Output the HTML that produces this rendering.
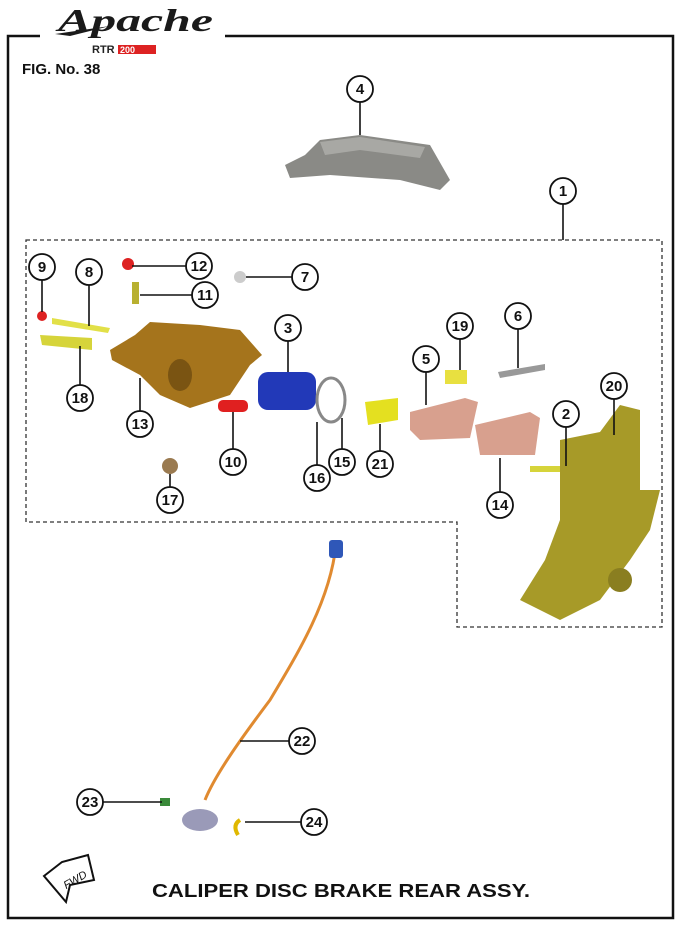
<!DOCTYPE html>
<html><head><meta charset="utf-8"><style>
body{margin:0;background:#fff}
svg{display:block}
.c circle{fill:#fff;stroke:#111;stroke-width:1.8}
.c text{font-family:"Liberation Sans",sans-serif;font-size:15px;font-weight:bold;text-anchor:middle;fill:#111}
.l{stroke:#111;stroke-width:1.6;fill:none}
</style></head><body>
<svg width="682" height="929" viewBox="0 0 682 929" xmlns="http://www.w3.org/2000/svg">
<rect x="8" y="36" width="665" height="882" fill="none" stroke="#111" stroke-width="2.5"/>
<rect x="40" y="10" width="185" height="50" fill="#fff"/>
<text x="58" y="31" font-family="Liberation Serif,serif" font-style="italic" font-weight="bold" font-size="32" fill="#1a1a1a" textLength="155" lengthAdjust="spacingAndGlyphs">Apache</text>
<path d="M55 34 L110 26 L70 36Z" fill="#1a1a1a"/>
<text x="92" y="53" font-family="Liberation Sans,sans-serif" font-weight="bold" font-size="11" fill="#222">RTR</text>
<rect x="118" y="45" width="38" height="9" fill="#d22"/>
<text x="120" y="53" font-family="Liberation Sans,sans-serif" font-weight="bold" font-size="9" fill="#fff">200</text>
<text x="22" y="74" font-family="Liberation Sans,sans-serif" font-weight="bold" font-size="15" fill="#111">FIG. No. 38</text>
<path d="M26 240H662V627H457V522H26Z" fill="none" stroke="#333" stroke-width="1.3" stroke-dasharray="4,3"/>
<!-- parts -->
<path d="M285 165 L305 155 L320 140 L360 135 L430 145 L450 180 L440 190 L400 180 L330 175 L290 178Z" fill="#8a8a86"/>
<path d="M320 142 L360 137 L425 147 L420 158 L360 150 L325 155Z" fill="#a8a8a4"/>
<path d="M110 350 L135 335 L150 322 L200 325 L240 330 L262 355 L250 365 L230 395 L190 408 L160 395 L140 375 L112 360Z" fill="#a5741c"/>
<ellipse cx="180" cy="375" rx="12" ry="16" fill="#7a5412"/>
<path d="M40 335 L92 338 L92 350 L42 345Z" fill="#d6d43a"/>
<path d="M52 318 L110 328 L108 333 L52 324Z" fill="#e2e048"/>
<circle cx="42" cy="316" r="5" fill="#d22"/>
<circle cx="128" cy="264" r="6" fill="#d22"/>
<rect x="132" y="282" width="7" height="22" fill="#b8b030"/>
<circle cx="240" cy="277" r="6" fill="#ccc"/>
<rect x="218" y="400" width="30" height="12" rx="5" fill="#e02020"/>
<rect x="258" y="372" width="58" height="38" rx="10" fill="#2239b8"/>
<ellipse cx="331" cy="400" rx="14" ry="22" fill="none" stroke="#888" stroke-width="3"/>
<path d="M365 402 L398 398 L398 420 L368 425Z" fill="#e4e020"/>
<path d="M410 412 L465 398 L478 402 L470 438 L420 440 L410 430Z" fill="#d8a08e"/>
<path d="M475 425 L530 412 L540 418 L535 455 L480 455Z" fill="#d8a08e"/>
<rect x="445" y="370" width="22" height="14" fill="#e8e040"/>
<path d="M498 372 L545 364 L545 370 L500 378Z" fill="#999"/>
<rect x="530" y="466" width="40" height="6" fill="#d6d43a"/>
<circle cx="170" cy="466" r="8" fill="#9a7a50"/>
<path d="M560 440 L600 432 L620 405 L640 410 L640 490 L660 490 L650 530 L630 560 L600 600 L560 620 L520 600 L545 560 L560 520Z" fill="#a79a28"/>
<circle cx="620" cy="580" r="12" fill="#8a7e20"/>
<path d="M336 545 C 330 600, 300 650, 270 700 C 240 740, 215 775, 205 800" fill="none" stroke="#e08a30" stroke-width="3"/>
<rect x="329" y="540" width="14" height="18" rx="3" fill="#2f57b8"/>
<ellipse cx="200" cy="820" rx="18" ry="11" fill="#9a9ab8"/>
<rect x="160" y="798" width="10" height="8" fill="#3a8a3a"/>
<path d="M240 820 q-8 5 -2 15" fill="none" stroke="#e0b800" stroke-width="4"/>
<!-- leaders -->
<g class="l">
<path d="M360 102V135"/><path d="M563 204V240"/><path d="M186 266H132"/><path d="M292 277H246"/>
<path d="M42 280V312"/><path d="M89 285V326"/><path d="M192 295H140"/><path d="M288 341V372"/>
<path d="M460 339V370"/><path d="M518 329V368"/><path d="M426 372V405"/><path d="M80 385V346"/>
<path d="M140 411V378"/><path d="M566 427V466"/><path d="M614 399V435"/><path d="M233 449V412"/>
<path d="M317 465V422"/><path d="M342 449V418"/><path d="M380 451V424"/><path d="M500 492V458"/>
<path d="M170 487V474"/><path d="M289 741H240"/><path d="M103 802H162"/><path d="M301 822H245"/>
</g>
<g class="c">
<circle cx="360" cy="89" r="13"/><text x="360" y="94">4</text>
<circle cx="563" cy="191" r="13"/><text x="563" y="196">1</text>
<circle cx="199" cy="266" r="13"/><text x="199" y="271">12</text>
<circle cx="305" cy="277" r="13"/><text x="305" y="282">7</text>
<circle cx="42" cy="267" r="13"/><text x="42" y="272">9</text>
<circle cx="89" cy="272" r="13"/><text x="89" y="277">8</text>
<circle cx="205" cy="295" r="13"/><text x="205" y="300">11</text>
<circle cx="288" cy="328" r="13"/><text x="288" y="333">3</text>
<circle cx="460" cy="326" r="13"/><text x="460" y="331">19</text>
<circle cx="518" cy="316" r="13"/><text x="518" y="321">6</text>
<circle cx="426" cy="359" r="13"/><text x="426" y="364">5</text>
<circle cx="80" cy="398" r="13"/><text x="80" y="403">18</text>
<circle cx="140" cy="424" r="13"/><text x="140" y="429">13</text>
<circle cx="566" cy="414" r="13"/><text x="566" y="419">2</text>
<circle cx="614" cy="386" r="13"/><text x="614" y="391">20</text>
<circle cx="233" cy="462" r="13"/><text x="233" y="467">10</text>
<circle cx="317" cy="478" r="13"/><text x="317" y="483">16</text>
<circle cx="342" cy="462" r="13"/><text x="342" y="467">15</text>
<circle cx="380" cy="464" r="13"/><text x="380" y="469">21</text>
<circle cx="500" cy="505" r="13"/><text x="500" y="510">14</text>
<circle cx="170" cy="500" r="13"/><text x="170" y="505">17</text>
<circle cx="302" cy="741" r="13"/><text x="302" y="746">22</text>
<circle cx="90" cy="802" r="13"/><text x="90" y="807">23</text>
<circle cx="314" cy="822" r="13"/><text x="314" y="827">24</text>
</g>
<path d="M44 876 L62 862 L88 855 L94 880 L70 885 L66 902Z" fill="#fff" stroke="#111" stroke-width="2"/>
<text x="62" y="886" font-family="Liberation Sans,sans-serif" font-size="11" font-style="italic" transform="rotate(-30 70 880)" fill="#111">FWD</text>
<text x="341" y="897" text-anchor="middle" font-family="Liberation Sans,sans-serif" font-weight="bold" font-size="18" textLength="378" lengthAdjust="spacingAndGlyphs" fill="#111">CALIPER DISC BRAKE REAR ASSY.</text>
</svg>
</body></html>
